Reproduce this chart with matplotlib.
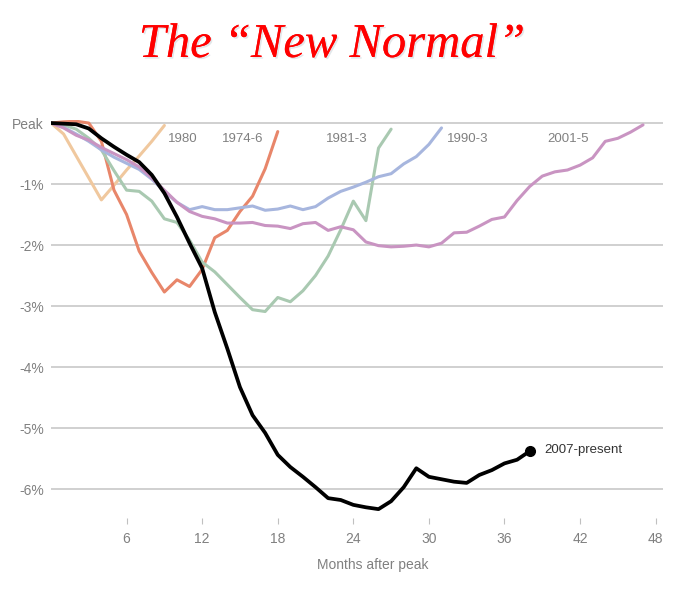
import matplotlib.pyplot as plt
import matplotlib.patheffects as pe

plt.rcParams['font.family'] = ['Liberation Sans', 'DejaVu Sans']

# 每条衰退曲线：相对就业峰值的百分比（按月）
black_2007 = [0, -0.01, -0.02, -0.09, -0.25, -0.39, -0.52, -0.64, -0.85, -1.15,
              -1.54, -1.97, -2.38, -3.1, -3.7, -4.33, -4.79, -5.08, -5.44, -5.64,
              -5.8, -5.97, -6.15, -6.18, -6.26, -6.3, -6.33, -6.2, -5.97, -5.66,
              -5.8, -5.84, -5.88, -5.9, -5.77, -5.69, -5.58, -5.52, -5.38]
tan_1980 = [0, -0.18, -0.54, -0.9, -1.26, -1.02, -0.77, -0.54, -0.3, -0.04]
salmon_1974 = [0, 0.02, 0.03, 0.0, -0.3, -1.1, -1.5, -2.1, -2.45, -2.77,
               -2.57, -2.68, -2.4, -1.88, -1.76, -1.45, -1.2, -0.75, -0.14]
green_1981 = [0, -0.03, -0.1, -0.25, -0.44, -0.78, -1.1, -1.12, -1.28, -1.57,
              -1.63, -1.92, -2.28, -2.44, -2.65, -2.86, -3.06, -3.09, -2.86, -2.93,
              -2.75, -2.5, -2.18, -1.75, -1.28, -1.6, -0.41, -0.1]
blue_1990 = [0, -0.07, -0.18, -0.3, -0.44, -0.56, -0.66, -0.76, -0.92, -1.12,
             -1.3, -1.42, -1.37, -1.42, -1.42, -1.39, -1.36, -1.43, -1.41, -1.36,
             -1.42, -1.37, -1.23, -1.12, -1.05, -0.97, -0.88, -0.83, -0.67, -0.55,
             -0.35, -0.08]
purple_2001 = [0, -0.08, -0.2, -0.28, -0.4, -0.5, -0.6, -0.72, -0.9, -1.1,
               -1.3, -1.45, -1.53, -1.57, -1.64, -1.64, -1.63, -1.68, -1.69, -1.73,
               -1.65, -1.63, -1.76, -1.7, -1.75, -1.95, -2.01, -2.03, -2.02, -2.0,
               -2.03, -1.97, -1.8, -1.79, -1.69, -1.58, -1.54, -1.27, -1.04, -0.87,
               -0.8, -0.77, -0.69, -0.57, -0.3, -0.25, -0.15, -0.03]

series = [
    ('1980', tan_1980, '#f0c89e', (9.3, -0.26)),
    ('1974-6', salmon_1974, '#e8866a', (13.6, -0.26)),
    ('1981-3', green_1981, '#a9c9b1', (21.8, -0.26)),
    ('1990-3', blue_1990, '#a7b6de', (31.4, -0.26)),
    ('2001-5', purple_2001, '#c994c2', (39.4, -0.26)),
]

y_ticks = [0, -1, -2, -3, -4, -5, -6]
y_labels = ['Peak', '-1%', '-2%', '-3%', '-4%', '-5%', '-6%']
x_ticks = [6, 12, 18, 24, 30, 36, 42, 48]

fig = plt.figure(figsize=(6.93, 6.0), dpi=100)
ax = fig.add_axes([0.0736, 0.1367, 0.957 - 0.0736, 0.6633])

for name, vals, color, (lx, ly) in series:
    ax.plot(range(len(vals)), vals, color=color, lw=2.2, solid_capstyle='round')
    ax.text(lx, ly, name, color='#808080', fontsize=9.5, va='center', ha='left')

ax.plot(range(len(black_2007)), black_2007, color='black', lw=2.7,
        solid_joinstyle='round')
ax.plot(len(black_2007) - 1, black_2007[-1], 'o', color='black', ms=7)
ax.text(39.2, -5.36, '2007-present', color='#333333', fontsize=9.5,
        va='center', ha='left')

ax.set_xlim(0, 48.6)
ax.set_ylim(-6.475, 0.05)
ax.set_yticks(y_ticks)
ax.set_yticklabels(y_labels)
ax.set_xticks(x_ticks)
ax.grid(axis='y', color='#c8c8c8', lw=1.2)
ax.set_axisbelow(True)
for s in ax.spines.values():
    s.set_visible(False)
ax.tick_params(axis='y', length=0, pad=5, labelsize=10, labelcolor='#808080')
ax.tick_params(axis='x', length=4, width=0.8, color='#c0c0c0', pad=6,
               labelsize=10, labelcolor='#808080')
ax.set_xlabel('Months after peak', fontsize=10, color='#808080')
ax.xaxis.set_label_coords(0.525, -0.1)

# 标题
fig.text(0.479, 0.925, 'The \u201cNew Normal\u201d', color='red', fontsize=35,
         family='Liberation Serif', style='italic', ha='center', va='center',
         path_effects=[pe.withSimplePatchShadow(offset=(1.2, -1.2),
                                                shadow_rgbFace='#b8c4cc', alpha=0.4),
                       pe.Normal()])

fig.savefig('out.png', dpi=100)
